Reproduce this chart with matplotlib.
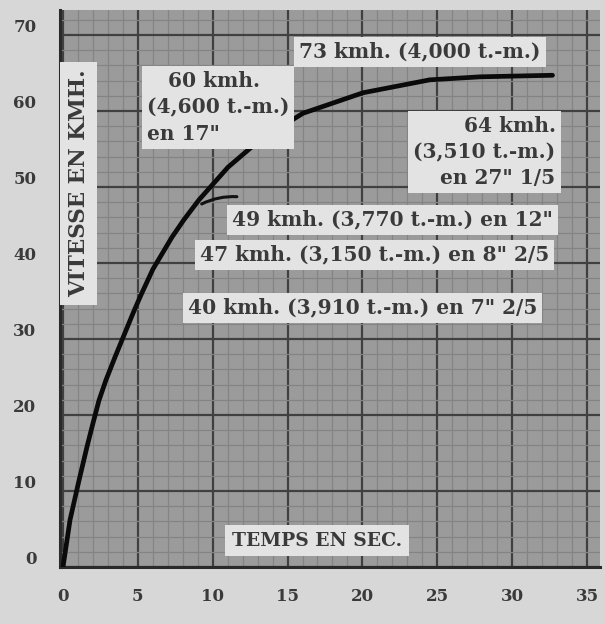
import matplotlib
matplotlib.use("Agg")
import matplotlib.pyplot as plt
import matplotlib.transforms as mtransforms
from matplotlib.ticker import MultipleLocator

# ---- data (time in seconds, speed in km/h) ----
time_s = [0, 0.47, 1.07, 1.60, 2.0, 2.40, 2.87, 3.47, 4.68, 5.21, 6.01,
          7.28, 8.08, 9.08, 11.02, 13.16, 16.03, 20.04, 24.5, 27.9, 32.7]
speed_kmh = [0, 6.2, 11.4, 15.8, 18.9, 21.9, 24.6, 27.6, 33.4, 35.8, 39.2,
             43.4, 45.7, 48.3, 52.6, 56.2, 59.7, 62.4, 64.1, 64.5, 64.7]

x_ticks = [0, 5, 10, 15, 20, 25, 30, 35]
y_ticks = [0, 10, 20, 30, 40, 50, 60, 70]

ann_texts = [
    "73 kmh. (4,000 t.-m.)",
    "   60 kmh.\n(4,600 t.-m.)\nen 17\"",
    "64 kmh.\n(3,510 t.-m.)\nen 27\" 1/5",
    "49 kmh. (3,770 t.-m.) en 12\"",
    "47 kmh. (3,150 t.-m.) en 8\" 2/5",
    "40 kmh. (3,910 t.-m.) en 7\" 2/5",
]
ann_x = [23.85, 5.6, 32.9, 22.0, 20.8, 20.0]
ann_y = [67.8, 60.5, 54.6, 45.7, 41.1, 34.1]
ann_ha = ["center", "left", "right", "center", "center", "center"]

# leader from the 49 km/h note to the curve
leader_from = (11.8, 48.7)
leader_to = (9.1, 47.6)

x_label = "TEMPS EN SEC."
y_label = "VITESSE EN KMH."

# ---- styling ----
W, H = 605, 624
BG = "#d7d7d7"
PAPER = "#9b9b9b"
TXT = "#3a3a3a"
BOXC = "#e3e3e3"
FONT = "DejaVu Serif"

fig = plt.figure(figsize=(W / 100, H / 100), dpi=100, facecolor=BG)
left_px, right_px, bot_px, top_px = 60, 600, 567, 10
ax = fig.add_axes([left_px / W, (H - bot_px) / H,
                   (right_px - left_px) / W, (bot_px - top_px) / H])
ax.set_facecolor(PAPER)

x0 = (left_px - 63) / 14.97
x1 = (right_px - 63) / 14.97
ax.set_xlim(x0, x1)
ax.set_ylim(0, (bot_px - top_px) / 7.6)

ax.xaxis.set_minor_locator(MultipleLocator(1))
ax.yaxis.set_minor_locator(MultipleLocator(2))
ax.set_xticks(x_ticks)
ax.set_yticks(y_ticks)
ax.set_xticklabels([str(v) for v in x_ticks])
ax.set_yticklabels([str(v) for v in y_ticks])

ax.grid(which="minor", color="#848484", linewidth=0.9)
ax.grid(which="major", color="#404040", linewidth=1.6)
ax.set_axisbelow(True)

ax.tick_params(which="both", length=0)
ax.tick_params(axis="x", pad=15, labelsize=12, labelcolor=TXT)
ax.tick_params(axis="y", pad=17, labelsize=12, labelcolor=TXT)
for lab in ax.get_xticklabels() + ax.get_yticklabels():
    lab.set_fontfamily(FONT)
    lab.set_fontweight("bold")
off = mtransforms.ScaledTranslation(0, 10 / 100, fig.dpi_scale_trans)
for lab in ax.get_yticklabels():
    lab.set_transform(lab.get_transform() + off)

for side in ["top", "right"]:
    ax.spines[side].set_visible(False)
ax.spines["left"].set_color("#2a2a2a")
ax.spines["left"].set_linewidth(2.2)
ax.spines["bottom"].set_color("#2a2a2a")
ax.spines["bottom"].set_linewidth(2.2)

# curve
ax.plot(time_s, speed_kmh, color="#0a0a0a", linewidth=3.4,
        solid_capstyle="round", solid_joinstyle="round", zorder=4)

box = dict(facecolor=BOXC, edgecolor="none", boxstyle="square,pad=0.25")
for t, x, y, ha in zip(ann_texts, ann_x, ann_y, ann_ha):
    ax.text(x, y, t, ha=ha, va="center", fontsize=14.5, family=FONT,
            fontweight="bold", color=TXT, bbox=box, linespacing=1.4,
            multialignment=ha, zorder=5)

ax.annotate("", xy=leader_to, xytext=leader_from,
            arrowprops=dict(arrowstyle="-", color="#111111", lw=2.2,
                            connectionstyle="arc3,rad=0.15"), zorder=4)

ax.text(0.035, 0.689, y_label, transform=ax.transAxes, rotation=90,
        ha="center", va="center", fontsize=15.5, family=FONT,
        fontweight="bold", color=TXT,
        bbox=dict(facecolor=BOXC, edgecolor="none",
                  boxstyle="square,pad=0.35"), zorder=5)
ax.text(0.476, 0.047, x_label, transform=ax.transAxes,
        ha="center", va="center", fontsize=13.5, family=FONT,
        fontweight="bold", color=TXT,
        bbox=dict(facecolor=BOXC, edgecolor="none",
                  boxstyle="square,pad=0.35"), zorder=5)

fig.savefig("out.png", dpi=100, facecolor=BG)
